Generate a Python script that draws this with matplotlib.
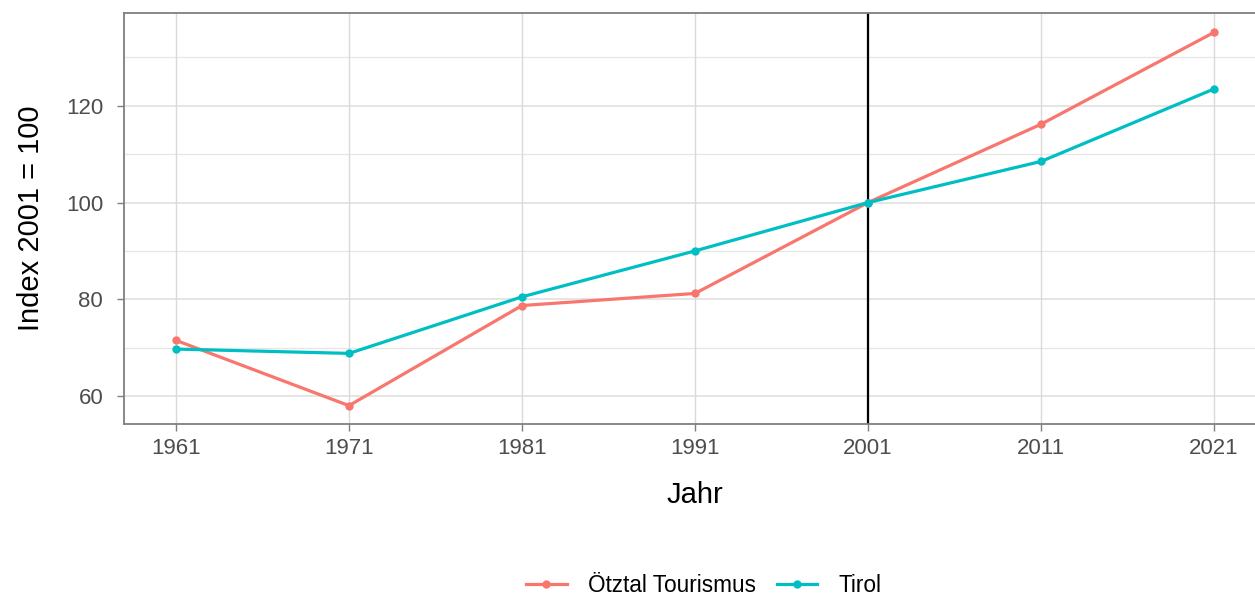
import matplotlib

matplotlib.use("Agg")
import matplotlib.pyplot as plt

years = [1961, 1971, 1981, 1991, 2001, 2011, 2021]
oetztal = [71.5, 58.0, 78.7, 81.2, 100.0, 116.2, 135.2]
tirol = [69.7, 68.8, 80.5, 90.0, 100.0, 108.5, 123.5]
series = [("Ötztal Tourismus", oetztal, "#F8766D"), ("Tirol", tirol, "#00BFC4")]
y_major = [60, 80, 100, 120]
y_minor = [70, 90, 110, 130]
ref_year = 2001

plt.rcParams["font.family"] = ["Liberation Sans", "DejaVu Sans"]

fig = plt.figure(figsize=(12.55, 5.96), dpi=100)
ax = fig.add_axes([124 / 1255, 1 - 424 / 596, 1142 / 1255, 411 / 596])

for y in y_major:
    ax.axhline(y, color="#DEDEDE", lw=1.1, zorder=0)
for y in y_minor:
    ax.axhline(y, color="#E6E6E6", lw=0.9, zorder=0)
for x in years:
    ax.axvline(x, color="#D9D9D9", lw=1.0, zorder=0)

ax.axvline(ref_year, color="black", lw=1.6, zorder=1)

for label, vals, color in series:
    ax.plot(years, vals, color=color, lw=2.3, marker="o", ms=5, label=label, zorder=2)

ax.set_xlim(1958, 2024)
ax.set_ylim(54.2, 139.2)
ax.set_xticks(years)
ax.set_yticks(y_major)
ax.tick_params(axis="both", direction="out", length=5, width=1.0, color="#7F7F7F",
               labelsize=16, labelcolor="#4D4D4D")
ax.tick_params(axis="x", pad=5)
ax.tick_params(axis="y", pad=10)
for sp in ax.spines.values():
    sp.set_color("#7F7F7F")
    sp.set_linewidth(1.3)

ax.set_xlabel("Jahr", fontsize=21, labelpad=16)
ax.set_ylabel("Index 2001 = 100", fontsize=21, labelpad=15)

fig.legend(loc="center", bbox_to_anchor=(704 / 1255, 1 - 585 / 596), ncol=2, frameon=False,
           fontsize=16.3, handlelength=1.8, handletextpad=0.95, columnspacing=0.9)

fig.savefig("out.png", dpi=100)
plt.close(fig)
